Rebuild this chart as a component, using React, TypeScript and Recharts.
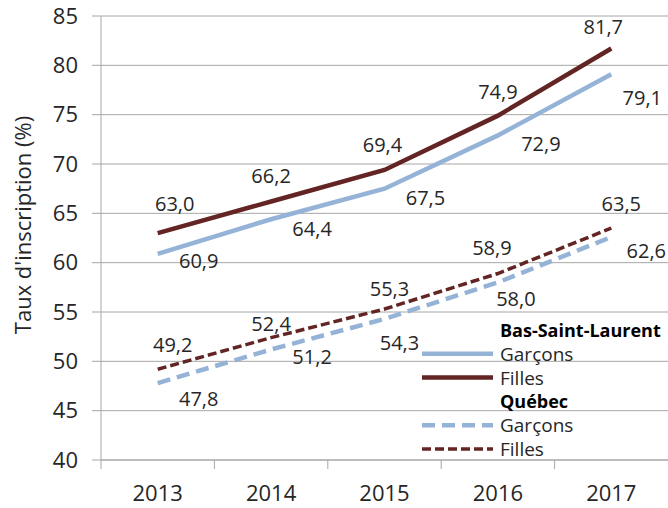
import React from "react";
import { CartesianGrid, LabelList, Legend, Line, LineChart, XAxis, YAxis } from "recharts";

const years = ["2013", "2014", "2015", "2016", "2017"];
const bslGarcons = [60.9, 64.4, 67.5, 72.9, 79.1];
const bslFilles = [63.0, 66.2, 69.4, 74.9, 81.7];
const qcGarcons = [47.8, 51.2, 54.3, 58.0, 62.6];
const qcFilles = [49.2, 52.4, 55.3, 58.9, 63.5];
const yTicks = [40, 45, 50, 55, 60, 65, 70, 75, 80, 85];

// hand-placed label nudges (dx, dy) from each point, as in the source chart
const bslGarconsNudge = [[41, 7], [41, 9], [41, 9], [43, 8], [31, 23]];
const bslFillesNudge = [[17, -30], [0, -26], [-2, -25], [0, -24], [-8, -22]];
const qcGarconsNudge = [[41, 15], [41, 7], [15, 24], [18, 16], [35, 13]];
const qcFillesNudge = [[15, -25], [0, -14], [5, -21], [-6, -26], [10, -25]];

const BLUE = "#95b3d7";
const RED = "#632523";
const GRID = "#a6a6a6";
const TEXT = "#262626";
const FONT = "'Open Sans', sans-serif";

const WIDTH = 668;
const HEIGHT = 508;
const PLOT_LEFT = 101;
const BAND = (WIDTH - PLOT_LEFT) / years.length;

const data = years.map((year, i) => ({
  year,
  bslGarcons: bslGarcons[i],
  bslFilles: bslFilles[i],
  qcGarcons: qcGarcons[i],
  qcFilles: qcFilles[i],
}));

const fmt = (v: number) => v.toFixed(1).replace(".", ",");

function nudgedLabel(nudges: number[][]) {
  return (props: any) => {
    const vb = props.viewBox || {};
    const px = vb.x ?? props.x;
    const py = vb.y ?? props.y;
    const [dx, dy] = nudges[props.index] ?? [0, 0];
    return (
      <text
        x={px + dx}
        y={py + dy}
        textAnchor="middle"
        dominantBaseline="central"
        fontSize={20}
        fontFamily={FONT}
        fill={TEXT}
      >
        {fmt(Number(props.value))}
      </text>
    );
  };
}

function YearTick(props: any) {
  const { x, y, payload } = props;
  const edge = x - BAND / 2;
  return (
    <g>
      <line x1={edge} x2={edge} y1={y} y2={y + 9} stroke={GRID} />
      <text
        x={x}
        y={y + 32}
        textAnchor="middle"
        dominantBaseline="central"
        fontSize={22}
        fontFamily={FONT}
        fill={TEXT}
      >
        {payload.value}
      </text>
    </g>
  );
}

const legendRows = [
  { header: "Bas-Saint-Laurent" },
  { text: "Garçons", color: BLUE, width: 4.5, dash: undefined },
  { text: "Filles", color: RED, width: 4.5, dash: undefined },
  { header: "Québec" },
  { text: "Garçons", color: BLUE, width: 4.5, dash: "13 7" },
  { text: "Filles", color: RED, width: 3.5, dash: "9 4" },
];

function GroupedLegend() {
  const rowH = 23.8;
  return (
    <svg width={250} height={145} style={{ display: "block" }}>
      {legendRows.map((row: any, i) => {
        const cy = 12 + i * rowH;
        if (row.header) {
          return (
            <text key={i} x={80} y={cy} dominantBaseline="central" fontSize={18}
              fontWeight="bold" fontFamily={FONT} fill="#000">
              {row.header}
            </text>
          );
        }
        return (
          <g key={i}>
            <line x1={2} x2={73} y1={cy} y2={cy} stroke={row.color}
              strokeWidth={row.width} strokeDasharray={row.dash} />
            <text x={80} y={cy} dominantBaseline="central" fontSize={19}
              fontFamily={FONT} fill={TEXT}>
              {row.text}
            </text>
          </g>
        );
      })}
    </svg>
  );
}

export default function App() {
  return (
    <div style={{ width: WIDTH, height: HEIGHT, background: "#fff" }}>
      <style>{"body{margin:0}"}</style>
      <LineChart
        width={WIDTH}
        height={HEIGHT}
        data={data}
        margin={{ top: 16, right: 0, left: 0, bottom: 0 }}
      >
        <CartesianGrid vertical={false} stroke={GRID} />
        <XAxis
          dataKey="year"
          height={48}
          padding={{ left: BAND / 2, right: BAND / 2 }}
          axisLine={{ stroke: GRID }}
          tickLine={false}
          tickSize={0}
          tickMargin={0}
          interval={0}
          tick={<YearTick />}
        />
        <YAxis
          width={PLOT_LEFT}
          domain={[40, 85]}
          ticks={yTicks}
          interval={0}
          axisLine={{ stroke: GRID }}
          tickLine={{ stroke: GRID }}
          tickSize={9}
          tickMargin={14}
          tick={{ fontSize: 22, fontFamily: FONT, fill: TEXT }}
          label={{
            content: () => (
              <text
                transform="rotate(-90 22 225)"
                x={22}
                y={225}
                textAnchor="middle"
                dominantBaseline="central"
                fontSize={22}
                fontFamily={FONT}
                fill={TEXT}
              >
                Taux d'inscription (%)
              </text>
            ),
          }}
        />
        <Legend
          layout="vertical"
          align="center"
          verticalAlign="middle"
          wrapperStyle={{ left: 420, top: 318, width: 250, height: 145 }}
          content={() => <GroupedLegend />}
        />
        <Line dataKey="qcGarcons" stroke={BLUE} strokeWidth={4.5} strokeDasharray="13 7"
          dot={false} isAnimationActive={false}>
          <LabelList dataKey="qcGarcons" content={nudgedLabel(qcGarconsNudge)} />
        </Line>
        <Line dataKey="qcFilles" stroke={RED} strokeWidth={3.5} strokeDasharray="9 4"
          dot={false} isAnimationActive={false}>
          <LabelList dataKey="qcFilles" content={nudgedLabel(qcFillesNudge)} />
        </Line>
        <Line dataKey="bslGarcons" stroke={BLUE} strokeWidth={4.5}
          dot={false} isAnimationActive={false}>
          <LabelList dataKey="bslGarcons" content={nudgedLabel(bslGarconsNudge)} />
        </Line>
        <Line dataKey="bslFilles" stroke={RED} strokeWidth={4.5}
          dot={false} isAnimationActive={false}>
          <LabelList dataKey="bslFilles" content={nudgedLabel(bslFillesNudge)} />
        </Line>
      </LineChart>
    </div>
  );
}
